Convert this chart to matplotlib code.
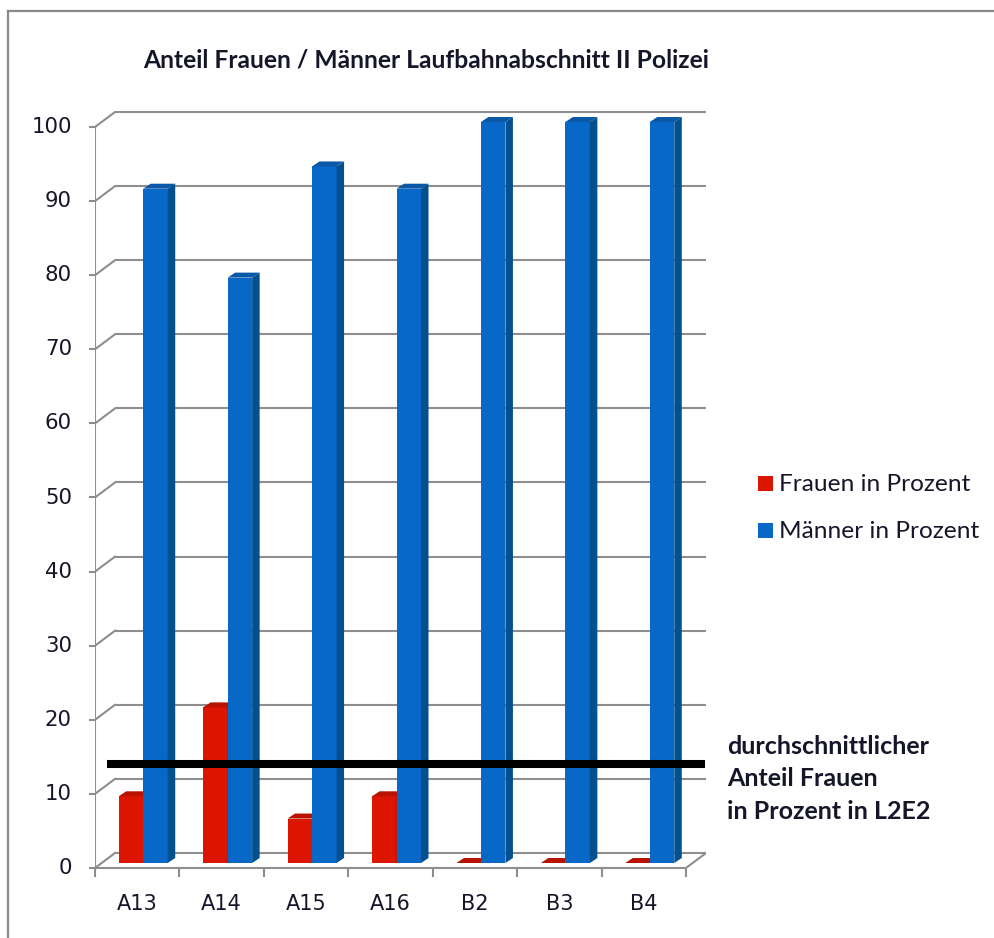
import matplotlib
matplotlib.use("Agg")
import matplotlib.pyplot as plt
from matplotlib.patches import Polygon, Rectangle
from matplotlib.lines import Line2D
import numpy as np

# --- data -------------------------------------------------------------
categories = ["A13", "A14", "A15", "A16", "B2", "B3", "B4"]
frauen = [9, 21, 6, 9, 0, 0, 0]          # Frauen in Prozent
maenner = [91, 79, 94, 91, 100, 100, 100]  # Männer in Prozent
avg_frauen = 13.3                          # durchschnittlicher Anteil Frauen (L2E2)
y_ticks = [0, 10, 20, 30, 40, 50, 60, 70, 80, 90, 100]

title = "Anteil Frauen / Männer Laufbahnabschnitt II Polizei"
series_names = ["Frauen in Prozent", "Männer in Prozent"]
note_lines = ["durchschnittlicher", "Anteil Frauen", "in Prozent in L2E2"]

# --- styling ----------------------------------------------------------
W, H, DPI = 994, 938, 100
GRID = "#8e8e8e"
TXT = "#16162a"
RED = dict(front="#dc1500", side="#a50f00", top="#b81200")
BLUE = dict(front="#0768c8", side="#03508f", top="#0a58a6")

fig = plt.figure(figsize=(W / DPI, H / DPI), dpi=DPI)
fig.patch.set_facecolor("white")

# plot region in pixels (front plane)
px_left, px_front_right, px_zero, px_hundred = 95, 686, 868, 127
cat_px = (px_front_right - px_left) / len(categories)
val_px = (px_zero - px_hundred) / 100.0

# 3-D wall depth (in data units)
WX = 20 / cat_px
WY = 15 / val_px
xmax = len(categories) + WX
ymax = 100 + WY + 0.15

ax_w = xmax * cat_px
ax_h = ymax * val_px
ax = fig.add_axes([px_left / W, (H - px_zero) / H, ax_w / W, ax_h / H])
ax.set_xlim(0, xmax)
ax.set_ylim(0, ymax)
ax.axis("off")

glw = 1.5
# back wall gridlines + left-wall diagonals + front y ticks
for v in y_ticks:
    ax.plot([WX, xmax], [v + WY, v + WY], color=GRID, lw=glw, zorder=1,
            solid_capstyle="butt")
    ax.plot([0, WX], [v, v + WY], color=GRID, lw=glw, zorder=1)
    ax.plot([-5 / cat_px, 0], [v, v], color=GRID, lw=glw, zorder=1, clip_on=False)
    ax.text(-23 / cat_px, v, str(v), ha="right", va="center", fontsize=15.3,
            color=TXT, family="DejaVu Sans")

# front vertical axis
ax.plot([0, 0], [0, 100], color=GRID, lw=glw, zorder=1)
# floor: front edge, right diagonal
ax.plot([0, len(categories)], [0, 0], color=GRID, lw=glw, zorder=1, clip_on=False)
ax.plot([len(categories), xmax], [0, WY], color=GRID, lw=glw, zorder=1)
# category tick marks and labels
for i in range(len(categories) + 1):
    ax.plot([i, i], [0, -8 / val_px], color=GRID, lw=glw, zorder=1, clip_on=False)
for i, c in enumerate(categories):
    ax.text(i + 0.5, -36 / val_px, c, ha="center", va="center", fontsize=15,
            color=TXT, family="DejaVu Sans")

# --- 3-D columns --------------------------------------------------------
bar_w = 24.5 / cat_px
bdx = 7.5 / cat_px       # side-face depth
bdy = 5 / val_px         # top-face depth
base = 5 / val_px        # bars stand in the middle of the floor
red_off = -18.5 / cat_px
blue_off = 6 / cat_px


def column(x0, value, col, z):
    y0, y1 = base, base + value
    x1 = x0 + bar_w
    if value > 0:
        ax.bar(x0, value, width=bar_w, bottom=y0, align="edge",
               color=col["front"], edgecolor="none", zorder=z)
        ax.add_patch(Polygon([(x1, y0), (x1 + bdx, y0 + bdy), (x1 + bdx, y1 + bdy),
                              (x1, y1)], closed=True, fc=col["side"], ec="none",
                             zorder=z))
    ax.add_patch(Polygon([(x0, y1), (x1, y1), (x1 + bdx, y1 + bdy),
                          (x0 + bdx, y1 + bdy)], closed=True, fc=col["top"],
                         ec="none", zorder=z))


for i in range(len(categories)):
    c = i + 0.5
    column(c + red_off, frauen[i], RED, 3 + 2 * i)
    column(c + blue_off, maenner[i], BLUE, 4 + 2 * i)

# average line
ax.plot([12 / cat_px, xmax - 0.01], [base + avg_frauen] * 2, color="black",
        lw=5.8, zorder=30, solid_capstyle="butt", clip_on=False)

# --- texts --------------------------------------------------------------
def fx(px):
    return px / W


def fy(py):
    return 1 - py / H


fig.text(fx(143), fy(60), title, ha="left", va="center", fontsize=17.7,
         fontweight="bold", family="Lato", color=TXT)

# legend
for k, (name, col) in enumerate(zip(series_names, [RED, BLUE])):
    yc = 484 + 47 * k
    fig.patches.append(Rectangle((fx(758), fy(yc + 7.5)), 15 / W, 15 / H,
                                 transform=fig.transFigure, fc=col["front"],
                                 ec="none"))
    fig.text(fx(779), fy(yc), name, ha="left", va="center", fontsize=17.6,
             family="Lato", color=TXT)

for k, line in enumerate(note_lines):
    fig.text(fx(727), fy(746 + 32.5 * k), line, ha="left", va="center",
             fontsize=18, fontweight="bold", family="Lato", color=TXT)

# outer frame (left and top edges)
fig.lines.append(Line2D([fx(8), fx(8)], [0, fy(11)], transform=fig.transFigure,
                        color="#8a8a8a", lw=1.6))
fig.lines.append(Line2D([fx(8), 1], [fy(11), fy(11)], transform=fig.transFigure,
                        color="#8a8a8a", lw=1.6))

fig.savefig("out.png", dpi=DPI, facecolor="white")
